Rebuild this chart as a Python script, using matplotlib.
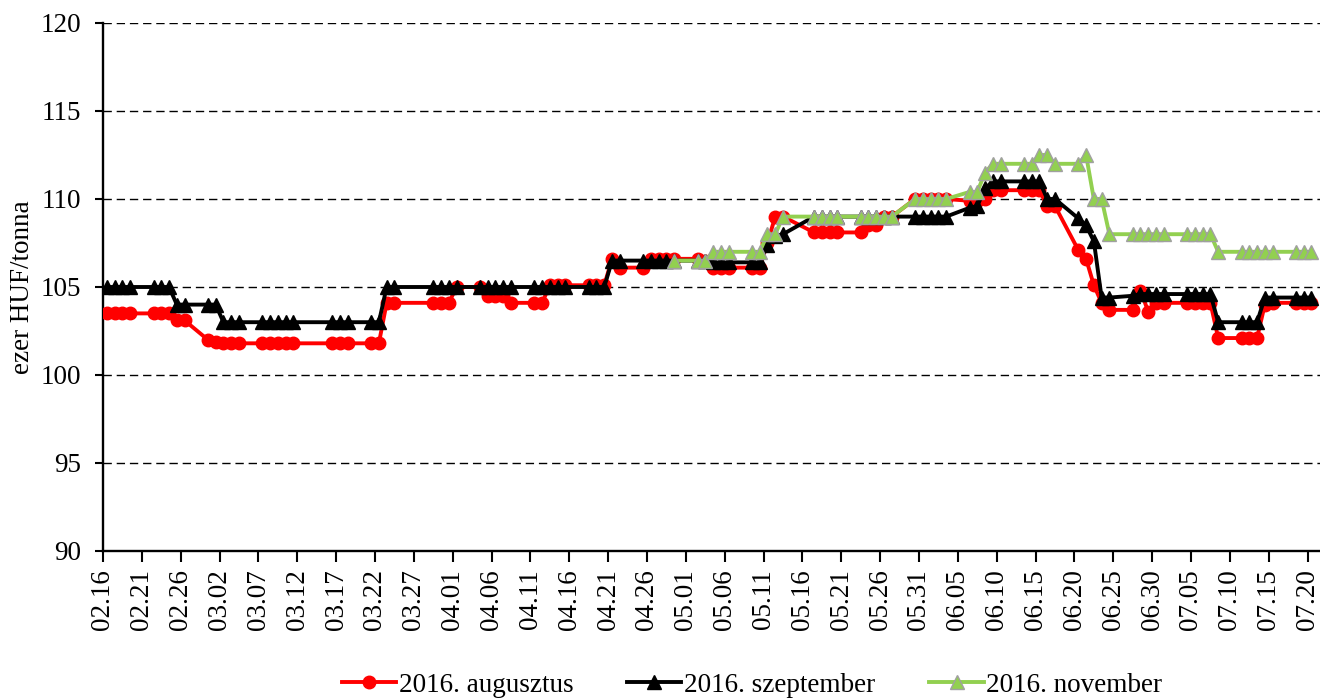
import matplotlib
matplotlib.use('Agg')
import matplotlib.pyplot as plt
import matplotlib.dates as mdates
import numpy as np
import pandas as pd

plt.rcParams['font.family'] = ['Liberation Serif', 'DejaVu Serif']

# Kereskedési napok (2016)
trading_days = [
    '02.16', '02.17', '02.18', '02.19', '02.22', '02.23', '02.24', '02.25', '02.26', '02.29',
    '03.01', '03.02', '03.03', '03.04', '03.07', '03.08', '03.09', '03.10', '03.11',
    '03.16', '03.17', '03.18', '03.21', '03.22', '03.23', '03.24', '03.29', '03.30', '03.31',
    '04.01', '04.04', '04.05', '04.06', '04.07', '04.08', '04.11', '04.12', '04.13', '04.14', '04.15',
    '04.18', '04.19', '04.20', '04.21', '04.22', '04.25', '04.26', '04.27', '04.28', '04.29',
    '05.02', '05.03', '05.04', '05.05', '05.06', '05.09', '05.10', '05.11', '05.12', '05.13',
    '05.17', '05.18', '05.19', '05.20', '05.23', '05.24', '05.25', '05.26', '05.27', '05.30', '05.31',
    '06.01', '06.02', '06.03', '06.06', '06.07', '06.08', '06.09', '06.10',
    '06.13', '06.14', '06.15', '06.16', '06.17', '06.20', '06.21', '06.22', '06.23', '06.24',
    '06.27', '06.28', '06.29', '06.30',
    '07.01', '07.04', '07.05', '07.06', '07.07', '07.08', '07.11', '07.12', '07.13', '07.14', '07.15',
    '07.18', '07.19', '07.20',
]

augusztus = [
    103.5, 103.5, 103.5, 103.5, 103.5, 103.5, 103.5, 103.1, 103.1, 102.0,
    101.9, 101.8, 101.8, 101.8, 101.8, 101.8, 101.8, 101.8, 101.8,
    101.8, 101.8, 101.8, 101.8, 101.8, 104.1, 104.1, 104.1, 104.1, 104.1,
    105.0, 105.0, 104.5, 104.5, 104.5, 104.1, 104.1, 104.1, 105.1, 105.1, 105.1,
    105.1, 105.1, 105.1, 106.6, 106.1, 106.1, 106.6, 106.6, 106.6, 106.6,
    106.6, 106.5, 106.1, 106.1, 106.1, 106.1, 106.1, 107.5, 109.0, 109.0,
    108.1, 108.1, 108.1, 108.1, 108.1, 108.5, 108.5, 109.0, 109.0, 110.0, 110.0,
    110.0, 110.0, 110.0, 109.9, 109.9, 110.0, 110.5, 110.5,
    110.5, 110.5, 110.5, 109.6, 109.6, 107.1, 106.6, 105.1, 104.1, 103.7,
    103.7, 104.8, 103.6, 104.1,
    104.1, 104.1, 104.1, 104.1, 104.1, 102.1, 102.1, 102.1, 102.1, 104.0, 104.1,
    104.1, 104.1, 104.1,
]

szeptember = [
    105.0, 105.0, 105.0, 105.0, 105.0, 105.0, 105.0, 104.0, 104.0, 104.0,
    104.0, 103.0, 103.0, 103.0, 103.0, 103.0, 103.0, 103.0, 103.0,
    103.0, 103.0, 103.0, 103.0, 103.0, 105.0, 105.0, 105.0, 105.0, 105.0,
    105.0, 105.0, 105.0, 105.0, 105.0, 105.0, 105.0, 105.0, 105.0, 105.0, 105.0,
    105.0, 105.0, 105.0, 106.5, 106.5, 106.5, 106.5, 106.5, 106.5, 106.5,
    106.5, 106.5, 106.4, 106.4, 106.4, 106.4, 106.4, 107.4, 107.9, 108.0,
    109.0, 109.0, 109.0, 109.0, 109.0, 109.0, 109.0, 109.0, 109.0, 109.0, 109.0,
    109.0, 109.0, 109.0, 109.5, 109.6, 110.6, 111.0, 111.0,
    111.0, 111.0, 111.0, 110.0, 110.0, 108.9, 108.5, 107.6, 104.4, 104.4,
    104.5, 104.6, 104.6, 104.6,
    104.6, 104.6, 104.6, 104.6, 104.6, 103.0, 103.0, 103.0, 103.0, 104.4, 104.4,
    104.4, 104.4, 104.4,
]

nan = np.nan
november = [nan] * 49 + [
    106.5,
    106.5, 106.5, 107.0, 107.0, 107.0, 107.0, 107.0, 108.0, 108.0, 109.0,
    109.0, 109.0, 109.0, 109.0, 109.0, 109.0, 109.0, 109.0, 109.0, 110.0, 110.0,
    110.0, 110.0, 110.0, 110.4, 110.4, 111.5, 112.0, 112.0,
    112.0, 112.0, 112.5, 112.5, 112.0, 112.0, 112.5, 110.0, 110.0, 108.0,
    108.0, 108.0, 108.0, 108.0,
    108.0, 108.0, 108.0, 108.0, 108.0, 107.0, 107.0, 107.0, 107.0, 107.0, 107.0,
    107.0, 107.0, 107.0,
]

# Excel dátumtengely: a pont a nap közepére kerül
dates = pd.to_datetime(['2016.' + d for d in trading_days], format='%Y.%m.%d') + pd.Timedelta(hours=12)

FS = 19.5

fig = plt.figure(figsize=(13.2, 7.0), dpi=100)
ax = fig.add_axes([103 / 1320, 149 / 700, 1 - 103 / 1320, 528 / 700])

ax.plot(dates, augusztus, color='#ff0000', linewidth=2.8, marker='o',
        markersize=9, markeredgecolor='#ff0000', label='2016. augusztus', zorder=3)
ax.plot(dates, szeptember, color='black', linewidth=2.8, marker='^',
        markersize=10, markeredgecolor='black', label='2016. szeptember', zorder=4)
ax.plot(dates, november, color='#92d050', linewidth=2.8, marker='^',
        markersize=10, markerfacecolor='#92d050', markeredgecolor='#a0a0a0',
        markeredgewidth=1.0, label='2016. november', zorder=5)

start = pd.Timestamp('2016-02-16')
ax.set_xlim(start, start + pd.Timedelta(days=156.6))
ax.set_ylim(90, 120)
ax.set_yticks(np.arange(90, 121, 5))

ticks = pd.date_range(start, '2016-07-20', freq='5D')
ax.set_xticks(ticks)
ax.xaxis.set_major_formatter(mdates.DateFormatter('%m.%d'))
plt.setp(ax.get_xticklabels(), rotation=90)

ax.tick_params(axis='both', labelsize=FS, direction='out', width=1.5, color='black')
ax.tick_params(axis='x', length=8, pad=5)
ax.tick_params(axis='y', length=6, pad=10)

for lvl in range(95, 121, 5):
    ax.axhline(lvl, color='black', linewidth=1.0, linestyle=(0, (6, 3.5)), zorder=1)

for side in ['top', 'right']:
    ax.spines[side].set_visible(False)
for side in ['left', 'bottom']:
    ax.spines[side].set_linewidth(1.7)
    ax.spines[side].set_color('black')

ax.set_ylabel('ezer HUF/tonna', fontsize=FS, labelpad=4)

fig.legend(loc='center', bbox_to_anchor=(752 / 1320, 15 / 700), ncol=3,
           frameon=False, fontsize=FS, handlelength=2.0, columnspacing=2.0,
           handletextpad=0.1, borderaxespad=0, borderpad=0)

plt.savefig('out.png', dpi=100, facecolor='white')
plt.close(fig)
